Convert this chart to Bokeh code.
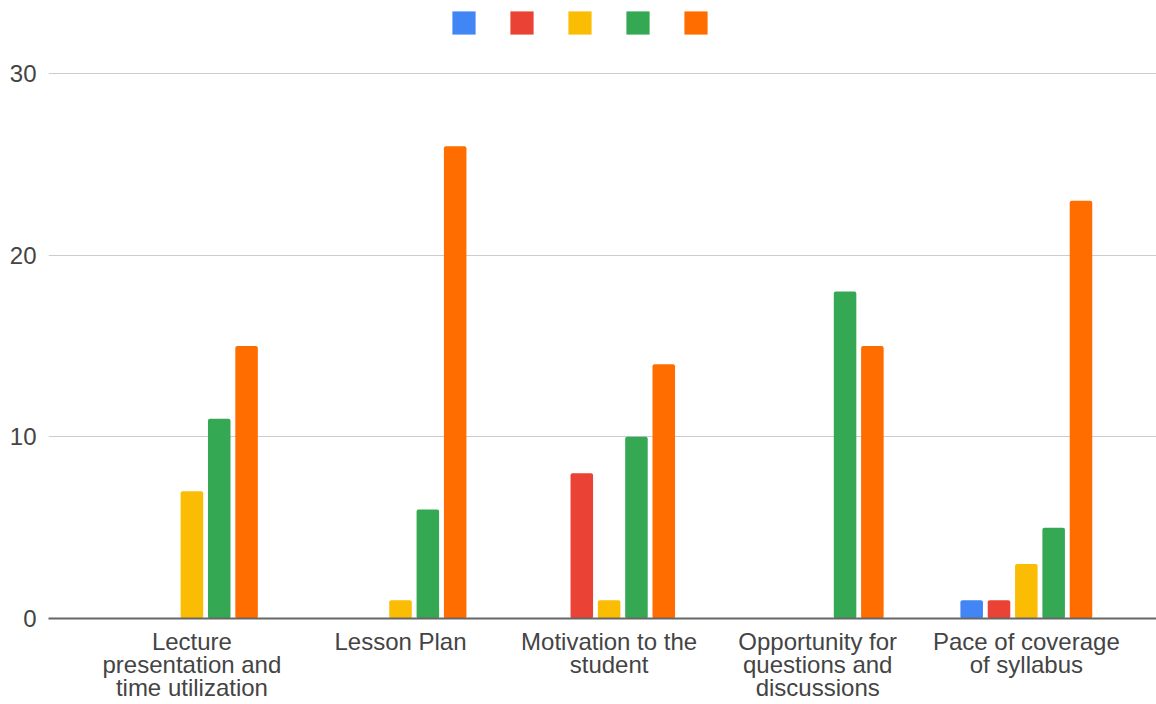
from bokeh.plotting import figure
from bokeh.models import ColumnDataSource, Range1d, FixedTicker, Legend, LegendItem
from bokeh.transform import dodge
from bokeh.core.properties import value
from bokeh.embed import file_html
from bokeh.resources import INLINE

categories = [
    "Lecture\npresentation and\ntime utilization",
    "Lesson Plan",
    "Motivation to the\nstudent",
    "Opportunity for\nquestions and\ndiscussions",
    "Pace of coverage\nof syllabus",
]
series_1 = [0, 0, 0, 0, 1]
series_2 = [0, 0, 8, 0, 1]
series_3 = [7, 1, 1, 0, 3]
series_4 = [11, 6, 10, 18, 5]
series_5 = [15, 26, 14, 15, 23]
y_ticks = [0, 10, 20, 30]

series = [series_1, series_2, series_3, series_4, series_5]
colors = ["#4285F4", "#EA4335", "#FBBC04", "#34A853", "#FF6D01"]

FONT = "Liberation Sans"

p = figure(width=1156, height=704,
           x_range=Range1d(-0.6875, 4.624), y_range=Range1d(0, 34.02),
           output_backend="svg", toolbar_location=None,
           min_border_left=48, min_border_right=0,
           min_border_top=0, min_border_bottom=86)

idx = list(range(len(categories)))
step = 0.131
width = 0.108
items = []
for k, (vals, col) in enumerate(zip(series, colors)):
    src = ColumnDataSource(dict(x=idx, top=vals))
    r = p.vbar(x=dodge("x", (k - 2) * step), top="top", bottom=0, width=width,
               source=src, fill_color=col, line_color=None, border_radius=2)
    items.append(LegendItem(label=value(" "), renderers=[r]))

legend = Legend(items=items, orientation="horizontal", location=(400.5, 581),
                glyph_width=29, glyph_height=29, label_width=0, label_height=0,
                label_standoff=0, spacing=29, padding=0, margin=0,
                border_line_color=None, background_fill_alpha=0,
                label_text_font_size="1px")
p.add_layout(legend, "center")

p.outline_line_color = None
p.xgrid.grid_line_color = None
p.ygrid.ticker = FixedTicker(ticks=y_ticks)
p.ygrid.grid_line_color = "#cccccc"
p.ygrid.grid_line_width = 1

p.yaxis.ticker = FixedTicker(ticks=y_ticks)
p.yaxis.axis_line_color = None
p.yaxis.major_tick_line_color = None
p.yaxis.minor_tick_line_color = None
p.yaxis.major_label_standoff = 6
p.yaxis.major_label_text_font = FONT
p.yaxis.major_label_text_font_size = "24px"
p.yaxis.major_label_text_color = "#444444"

p.xaxis.ticker = FixedTicker(ticks=idx)
p.xaxis.major_label_overrides = {i: c for i, c in zip(idx, categories)}
p.xaxis.axis_line_color = "#666666"
p.xaxis.axis_line_width = 2
p.xaxis.major_tick_line_color = None
p.xaxis.minor_tick_line_color = None
p.xaxis.major_label_standoff = 3
p.xaxis.major_label_text_font = FONT
p.xaxis.major_label_text_font_size = "24px"
p.xaxis.major_label_text_color = "#444444"
p.xaxis.major_label_text_line_height = 0.87

open("out.html", "w").write(file_html(p, INLINE))
